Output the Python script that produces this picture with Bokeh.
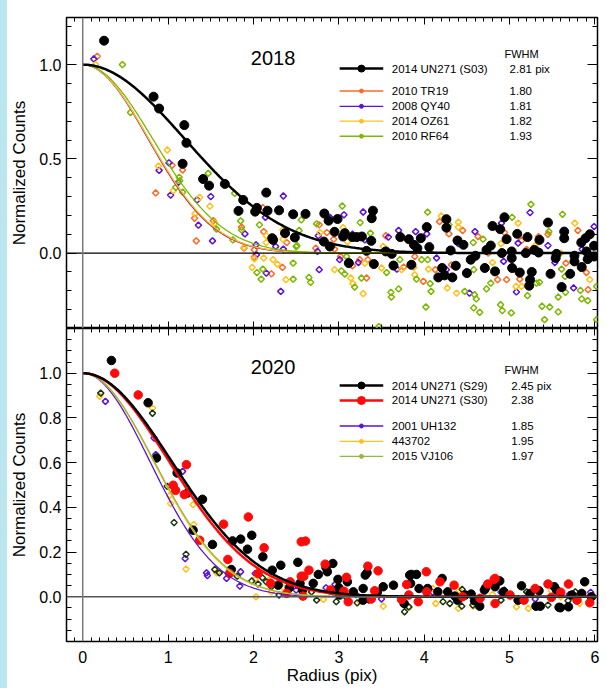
import numpy as np
from bokeh.plotting import figure
from bokeh.models import (Range1d, LinearAxis, FixedTicker, PrintfTickFormatter, Span, Div)
from bokeh.layouts import column, row
from bokeh.embed import file_html
from bokeh.resources import INLINE
from bokeh.core.properties import value

FONT = "Liberation Sans"

# ---------------- data: 2018 panel ----------------
top_names = ["2014 UN271 (S03)", "2010 TR19", "2008 QY40", "2014 OZ61", "2010 RF64"]
top_fwhm = [2.81, 1.80, 1.81, 1.82, 1.93]
top_fwhm_text = ["2.81 pix", "1.80", "1.81", "1.82", "1.93"]

s03 = [(0.25,1.127),(0.83,0.83),(0.895,0.767),(1.19,0.679),(1.215,0.585),(1.17,0.474),(1.41,0.393),(1.48,0.358),
       (1.665,0.367),(1.825,0.224),(1.88,0.282),(2.02,0.22),(2.04,0.24),(2.15,0.321),(2.165,0.225),(2.30,0.227),
       (2.465,0.206),(2.22,0.079),(2.23,0.07),(2.37,0.106),(2.485,0.083),(2.61,0.208),(2.83,0.21),(2.88,0.172),
       (2.985,0.181),(2.95,0.113),(3.07,0.106),(3.05,0.088),(3.16,0.085),(3.21,0.085),(3.27,0.088),(3.40,0.225),
       (3.385,0.185),(3.38,0.065),(3.72,0.085),(3.82,0.074),(2.825,0.061),(2.895,0.035),(3.325,0.012),(3.117,-0.053),
       (3.41,-0.058),(3.62,-0.004),(3.55,0.009),(3.64,-0.066),(3.96,0.079),(3.88,0.044),(3.92,0.026),(3.85,-0.062),
       (4.03,0.138),(4.06,0.032),(4.26,0.18),(4.26,0.135),(4.31,0.014),(4.21,-0.079),(4.24,-0.118),(4.165,-0.129),
       (4.33,-0.129),(4.37,-0.067),(4.39,0.067),(4.46,0.044),(4.50,-0.106),(4.545,-0.035),(4.60,-0.014),(4.73,0.017),
       (4.71,-0.079),(4.78,0.04),(4.80,0.144),(4.89,0.127),(4.94,0.19),(4.965,0.074),(4.91,0.0),(4.83,-0.097),
       (5.025,0.009),(5.025,-0.026),(5.03,-0.079),(5.09,0.102),(5.12,-0.103),(5.21,0.085),(5.19,0.0),(5.26,-0.1),
       (5.24,-0.141),(5.23,-0.173),(5.29,0.017),(5.34,0.003),(5.35,0.07),(5.45,0.162),(5.48,-0.11),(5.55,-0.004),
       (5.54,-0.026),(5.64,0.114),(5.64,0.079),(5.61,-0.18),(5.71,-0.11),(5.76,-0.044),(5.76,-0.014),(5.84,0.056),
       (5.845,-0.074),(5.89,0.079),(5.94,0.1),(5.90,0.009),(5.915,-0.032),(5.99,0.039),(5.99,-0.018)]

tr19 = [(0.17,1.044),(1.047,0.466),(1.17,0.441),(0.855,0.319),(1.31,0.185),(1.53,0.172),(1.33,0.065),(2.11,0.241),
        (2.12,0.114),(1.89,0.026),(2.01,0.017),(2.01,-0.021),(2.21,-0.11),(2.34,-0.076),(2.39,0.056),(1.86,0.138),
        (2.77,0.15),(2.86,0.109),(2.94,0.074),(2.73,0.026),(2.95,0.021),(3.55,0.092),(3.76,-0.074),(3.325,-0.132),
        (3.02,-0.018),(3.245,-0.035),(3.34,-0.035),(3.16,-0.067),(4.18,0.167),(4.29,0.102),(4.63,0.088),(4.94,0.109),
        (5.14,0.067),(5.34,0.088),(5.80,0.12),(3.89,-0.018),(3.99,-0.15),(4.13,-0.088),(4.32,-0.062),(4.86,-0.141),
        (4.965,-0.141),(5.06,-0.088),(5.12,-0.138),(5.92,-0.194),(5.90,-0.103),(5.66,-0.053),(4.45,0.12),(5.45,0.10),
        (5.2,0.02),(4.75,0.0)]

qy40 = [(0.13,1.03),(0.895,0.439),(1.01,0.479),(1.12,0.376),(1.03,0.308),(1.34,0.282),(1.50,0.30),(1.355,0.148),
        (1.52,0.065),(1.90,0.102),(2.14,0.19),(2.03,0.044),(2.035,-0.009),(2.15,-0.106),(2.32,-0.203),(2.35,0.303),
        (2.26,0.035),(2.35,0.021),(2.76,0.092),(2.895,0.19),(3.06,0.203),(3.285,0.218),(3.16,0.1),(3.305,0.07),
        (2.75,0.009),(3.58,0.085),(3.70,0.12),(3.68,-0.085),(3.01,-0.035),(3.23,-0.05),(2.77,-0.088),(3.90,0.114),
        (4.03,0.102),(4.595,0.114),(4.905,0.159),(5.24,0.215),(5.10,0.053),(5.99,0.141),(4.145,-0.026),(4.26,-0.088),
        (4.53,-0.212),(5.08,-0.206),(5.75,-0.185),(5.53,-0.05),(4.93,-0.044),(5.45,0.04),(5.85,0.02),(4.4,0.05)]

oz61 = [(0.15,1.0),(0.99,0.547),(0.887,0.462),(1.06,0.331),(1.37,0.296),(1.49,0.249),(1.316,0.208),(1.547,0.159),
        (2.15,0.092),(1.89,0.03),(2.12,-0.026),(1.985,-0.076),(2.01,-0.03),(2.23,-0.035),(2.28,-0.058),(2.38,-0.141),
        (2.345,0.074),(2.345,0.123),(2.15,0.056),(2.78,0.109),(3.05,0.135),(3.10,0.061),(3.52,0.035),(3.735,-0.088),
        (3.50,-0.079),(3.285,-0.215),(3.165,-0.162),(3.14,-0.132),(2.95,-0.088),(3.305,-0.053),(3.98,0.079),(4.20,0.197),
        (4.40,0.164),(4.40,0.138),(5.10,0.159),(5.765,0.159),(3.89,-0.115),(4.05,-0.085),(4.27,-0.185),(4.38,-0.212),
        (5.075,-0.177),(5.14,-0.177),(5.94,-0.141),(3.88,-0.076),(4.8,-0.05),(5.3,0.04),(5.6,0.0),(4.9,0.05)]

rf64 = [(0.465,1.0),(0.56,0.746),(1.13,0.402),(1.137,0.384),(1.09,0.349),(1.17,0.323),(1.47,0.423),(1.567,0.127),
        (1.78,0.317),(1.76,0.07),(1.85,0.171),(1.86,0.123),(2.07,0.15),(2.04,-0.103),(2.11,-0.085),(2.09,-0.138),
        (2.465,-0.138),(2.465,-0.053),(2.50,0.035),(2.56,0.176),(2.51,0.039),(2.535,0.12),(2.74,0.155),(3.04,0.25),
        (3.25,0.162),(3.37,0.106),(3.715,-0.035),(3.56,-0.103),(3.61,-0.208),(3.615,-0.233),(3.70,-0.19),(3.185,-0.18),
        (3.265,-0.132),(3.07,-0.111),(3.03,-0.094),(3.09,-0.018),(2.65,-0.129),(2.67,-0.155),(4.04,0.217),(4.29,0.15),
        (4.575,0.056),(4.69,0.074),(5.03,0.19),(5.25,0.259),(5.46,0.114),(5.62,0.206),(4.04,-0.035),(3.97,-0.035),
        (3.91,-0.138),(4.07,-0.162),(4.08,-0.203),(4.02,-0.286),(4.475,-0.203),(4.59,-0.221),(4.61,-0.243),(4.58,-0.291),
        (4.65,-0.314),(4.58,-0.088),(4.73,-0.19),(4.78,-0.159),(4.895,-0.274),(4.915,-0.305),(5.02,-0.317),(5.21,-0.226),
        (5.315,-0.159),(5.35,-0.155),(5.38,-0.282),(5.47,-0.286),(5.41,-0.353),(5.57,-0.312),(5.57,-0.233),(5.655,-0.208),
        (5.83,-0.198),(5.845,-0.243),(5.915,-0.252),(6.02,-0.177),(6.02,-0.353),(5.65,-0.124),(5.61,-0.085),(3.47,-0.39)]

# ---------------- data: 2020 panel ----------------
bot_names = ["2014 UN271 (S29)", "2014 UN271 (S30)", "2001 UH132", "443702", "2015 VJ106"]
bot_fwhm = [2.45, 2.38, 1.85, 1.95, 1.97]
bot_fwhm_text = ["2.45 pix", "2.38", "1.85", "1.95", "1.97"]

s29 = [(0.336,1.057),(0.766,0.868),(0.864,0.621),(1.106,0.554),(1.227,0.464),(1.403,0.436),(1.293,0.298),(1.52,0.234),
       (1.755,0.25),(1.85,0.258),(1.93,0.213),(1.98,0.275),(2.11,0.179),(2.22,0.119),(2.32,0.141),(2.29,0.052),
       (2.42,0.04),(2.52,0.154),(2.545,0.06),(1.74,0.122),(2.76,0.1),(2.85,0.131),(2.93,0.149),(2.865,0.112),
       (2.99,0.078),(3.10,0.067),(3.33,0.107),(3.52,0.045),(3.64,0.052),(3.83,0.097),(2.575,0.03),(3.01,0.008),
       (3.17,0.022),(3.285,0.037),(3.285,-0.015),(3.765,-0.03),(3.31,0.097),(3.85,0.1),(3.91,0.1),(4.21,0.082),
       (4.885,0.071),(5.88,0.067),(5.14,0.049),(5.58,-0.047),(4.65,-0.042),(3.84,0.06),(3.94,0.037),(4.04,0.037),
       (4.16,0.022),(4.275,0.022),(4.36,0.003),(4.39,-0.015),(4.48,0.008),(4.55,0.012),(4.59,-0.018),(4.705,0.03),
       (4.72,0.04),(4.85,0.067),(4.83,0.045),(4.93,0.022),(5.10,-0.015),(5.24,0.015),(5.345,0.027),(5.31,-0.042),
       (5.36,-0.042),(5.525,0.045),(5.55,0.03),(5.595,-0.049),(5.69,-0.045),(5.73,0.008),(5.845,0.015),(5.96,0.0),
       (3.45,0.02),(3.0,0.04),(2.7,0.06)]

s30 = [(0.375,1.0),(0.65,0.903),(1.215,0.591),(1.06,0.499),(1.087,0.476),(1.19,0.457),(1.37,0.253),(1.65,0.325),
       (1.70,0.167),(1.72,0.104),(1.94,0.357),(2.125,0.219),(2.055,0.104),(2.39,0.015),(2.56,0.092),(2.56,0.246),
       (2.61,0.249),(2.65,0.119),(2.59,0.092),(2.84,0.146),(3.09,0.087),(3.34,0.137),(3.795,0.055),(2.43,0.067),
       (2.58,0.003),(3.06,0.025),(3.11,-0.022),(3.38,-0.01),(3.42,0.027),(3.735,-0.012),(3.46,0.116),(4.025,0.112),
       (4.83,0.082),(5.45,0.057),(5.69,0.057),(3.82,0.008),(3.93,-0.022),(4.03,0.022),(4.185,0.067),(4.35,0.052),
       (4.655,-0.007),(4.745,0.057),(4.82,0.078),(4.83,-0.03),(5.005,0.008),(5.17,-0.015),(5.30,0.037),(5.49,-0.003),
       (5.79,-0.015),(5.94,-0.027),(2.2,0.06),(2.9,0.03),(4.45,0.0),(5.6,0.02)]

uh132 = [(0.266,0.874),(0.856,0.636),(0.836,0.71),(1.17,0.561),(1.2,0.171),(1.45,0.107),(1.46,0.095),(1.685,0.082),
         (1.84,0.048),(1.85,0.112),(2.02,0.104),(2.20,0.06),(2.50,0.03),(2.955,0.055),(2.85,0.04),(2.95,0.015),
         (3.75,-0.018),(3.2,0.01),(3.5,-0.01),(4.1,0.02),(4.4,0.0),(4.9,0.02),(5.3,-0.01),(5.7,0.01),(5.95,0.02)]

a443702 = [(0.2,0.897),(0.817,0.844),(1.03,0.417),(1.02,0.454),(1.293,0.412),(1.30,0.323),(1.21,0.124),(1.57,0.107),
           (2.03,0.0),(2.02,0.078),(2.18,0.075),(2.21,0.022),(2.35,0.04),(2.82,-0.012),(2.99,0.06),(3.25,-0.022),
           (3.52,-0.042),(4.10,0.037),(4.40,-0.052),(5.08,-0.045),(5.22,-0.052),(5.49,0.027),(5.82,-0.03),(4.135,-0.03),
           (4.575,-0.042),(4.41,0.03),(3.82,-0.047),(4.8,0.01),(5.6,0.0)]

vj106 = [(0.211,0.911),(0.817,0.821),(0.99,0.494),(1.07,0.332),(1.21,0.19),(1.547,0.122),(1.60,0.107),(1.81,0.092),
         (1.98,0.071),(2.105,0.085),(2.15,0.067),(2.055,0.057),(2.21,0.045),(2.30,0.008),(2.68,0.022),(2.74,-0.015),
         (2.97,-0.022),(3.215,-0.027),(3.35,-0.015),(3.77,-0.067),(3.09,-0.003),(3.82,-0.045),(4.22,-0.022),(4.30,-0.03),
         (4.445,0.033),(4.57,-0.037),(4.90,-0.015),(4.94,0.03),(5.45,-0.037),(5.685,-0.018),(5.94,0.0),(4.44,-0.042),
         (5.20,0.022),(5.77,0.022)]

# ---------------- styles ----------------
BLACK = "#000000"
ORANGE = "#ff6a26"
PURPLE = "#5b12d6"
YELLOW = "#ffc21a"
GREEN = "#7cb800"
RED = "#ff0a0a"
GREEN2 = "#94b840"
DARKG = "#1c3410"

X0, X1 = -0.19, 6.03
xr = Range1d(X0, X1)


def gauss(r, fwhm):
    return np.exp(-4.0 * np.log(2.0) * r ** 2 / fwhm ** 2)


rgrid = np.linspace(0, 6.03, 400)


def unzip(pairs):
    return [p[0] for p in pairs], [p[1] for p in pairs]


def lab_axis(ticker, fmt, tick_in, minor_in, standoff, label):
    ax = LinearAxis(ticker=ticker, formatter=fmt, axis_line_color=None,
                    major_tick_in=tick_in, major_tick_out=0,
                    minor_tick_in=minor_in, minor_tick_out=0,
                    major_tick_line_color="black", minor_tick_line_color="black",
                    major_label_standoff=standoff, axis_label=label)
    ax.major_label_text_font = FONT
    ax.major_label_text_font_size = "16px"
    ax.major_label_text_color = "black"
    ax.axis_label_text_font = FONT
    ax.axis_label_text_font_size = "17px"
    ax.axis_label_text_font_style = "normal"
    ax.axis_label_text_color = "black"
    return ax


def tick_only(p, side, major_pos, minor_pos, major_len, minor_len):
    # axes that carry only inward tick marks (no labels)
    for pos, ln in [(minor_pos, minor_len), (major_pos, major_len)]:
        ax = LinearAxis(ticker=FixedTicker(ticks=[], minor_ticks=pos), axis_line_color=None,
                        major_tick_in=0, major_tick_out=0, minor_tick_in=ln, minor_tick_out=0,
                        minor_tick_line_color="black", major_label_standoff=0)
        p.add_layout(ax, side)


x_major = [0, 1, 2, 3, 4, 5, 6]
x_minor = [round(-0.1 + 0.1 * i, 2) for i in range(62)]
x_ticker = FixedTicker(ticks=x_major, minor_ticks=x_minor)
fmt1 = PrintfTickFormatter(format="%.1f")
fmt0 = PrintfTickFormatter(format="%d")


def base_fig(yr, fh, top_b, bot_b):
    p = figure(x_range=xr, y_range=yr, frame_width=531, frame_height=fh,
               x_axis_type=None, y_axis_type=None, output_backend="svg",
               toolbar_location=None, min_border_left=57, min_border_right=8,
               min_border_top=top_b, min_border_bottom=bot_b)
    p.grid.visible = False
    p.outline_line_color = "black"
    p.outline_line_width = 1.5
    p.background_fill_color = "white"
    p.border_fill_color = "white"
    return p


def diamonds(p, pairs, col):
    xs, ys = unzip(pairs)
    p.scatter(xs, ys, marker="square", angle=np.pi / 4, size=4.4, fill_color=None,
              line_color=col, line_width=1.5)


# ================= TOP PANEL =================
top = base_fig(Range1d(-0.4, 1.25), 311, 17, 0)
ty_major = [0.0, 0.5, 1.0]
ty_minor = [round(-0.4 + 0.1 * i, 2) for i in range(17)]
la = lab_axis(FixedTicker(ticks=ty_major, minor_ticks=ty_minor), fmt1, 10, 5, 5, "Normalized Counts")
la.axis_label_standoff = 7
top.add_layout(la, "left")
tick_only(top, "right", ty_major, ty_minor, 10, 5)
tick_only(top, "above", x_major, x_minor, 7, 4)
tick_only(top, "below", x_major, x_minor, 7, 4)

top.add_layout(Span(location=0, dimension="width", line_color="black", line_width=1.2))
top.add_layout(Span(location=0, dimension="height", line_color="#7a7a7a", line_width=1.5))

for pairs, col in [(tr19, ORANGE), (qy40, PURPLE), (oz61, YELLOW), (rf64, GREEN)]:
    diamonds(top, pairs, col)
xs, ys = unzip(s03)
top.scatter(xs, ys, marker="circle", size=9, fill_color="black", line_color="black")

for f, col in zip(top_fwhm[1:], [ORANGE, PURPLE, YELLOW, GREEN]):
    top.line(rgrid, gauss(rgrid, f), line_color=col, line_width=1.3)
top.line(rgrid, gauss(rgrid, top_fwhm[0]), line_color="black", line_width=2.5)

# legend (top)
top_rows_y = [0.979, 0.86, 0.779, 0.70, 0.62]
top_cols = [BLACK, ORANGE, PURPLE, YELLOW, GREEN]
for i, (yv, col) in enumerate(zip(top_rows_y, top_cols)):
    lw = 2.5 if i == 0 else 1.3
    ms = 7 if i == 0 else 4
    top.line([3.01, 3.52], [yv, yv], line_color=col, line_width=lw)
    top.scatter([3.265], [yv], marker="circle", size=ms, fill_color=col, line_color=col)
top.text([3.62] * 5, top_rows_y, text=top_names, text_font=value(FONT), text_font_size="11.5px",
         text_baseline="middle", text_align="left", text_color="black")
top.text([5.0] * 5, top_rows_y, text=top_fwhm_text, text_font=value(FONT), text_font_size="11.5px",
         text_baseline="middle", text_align="left", text_color="black")
top.text([4.94], [1.058], text=["FWHM"], text_font=value(FONT), text_font_size="11px",
         text_baseline="middle", text_align="left", text_color="black")
top.text([2.23], [1.033], text=["2018"], text_font=value(FONT), text_font_size="20px",
         text_baseline="middle", text_align="center", text_color="black")

# ================= BOTTOM PANEL =================
bot = base_fig(Range1d(-0.2, 1.2), 313, 0, 47)
by_major = [0.0, 0.2, 0.4, 0.6, 0.8, 1.0]
by_minor = [round(-0.2 + 0.05 * i, 3) for i in range(29)]
lb = lab_axis(FixedTicker(ticks=by_major, minor_ticks=by_minor), fmt1, 10, 5, 5, "Normalized Counts")
lb.axis_label_standoff = 7
bot.add_layout(lb, "left")
tick_only(bot, "right", by_major, by_minor, 10, 5)
tick_only(bot, "above", x_major, x_minor, 7, 4)
bx = lab_axis(x_ticker, fmt0, 7, 4, 9, "Radius (pix)")
bx.axis_label_standoff = 0
bot.add_layout(bx, "below")

bot.add_layout(Span(location=0, dimension="width", line_color="#555555", line_width=1.5))
bot.add_layout(Span(location=0, dimension="height", line_color="#7a7a7a", line_width=1.5))

for pairs, col in [(uh132, PURPLE), (a443702, YELLOW), (vj106, DARKG)]:
    diamonds(bot, pairs, col)
xs, ys = unzip(s29)
bot.scatter(xs, ys, marker="circle", size=8.5, fill_color="black", line_color="black")
xs, ys = unzip(s30)
bot.scatter(xs, ys, marker="circle", size=8.5, fill_color=RED, line_color=RED)

for f, col in zip(bot_fwhm[2:], [PURPLE, YELLOW, GREEN2]):
    bot.line(rgrid, gauss(rgrid, f), line_color=col, line_width=1.3)
bot.line(rgrid, gauss(rgrid, bot_fwhm[1]), line_color=RED, line_width=2.5)
bot.line(rgrid, gauss(rgrid, bot_fwhm[0]), line_color="black", line_width=2.5)

bot_rows_y = [0.945, 0.878, 0.764, 0.695, 0.628]
bot_cols = [BLACK, RED, PURPLE, YELLOW, GREEN2]
for i, (yv, col) in enumerate(zip(bot_rows_y, bot_cols)):
    lw = 2.5 if i < 2 else 1.3
    ms = (7 if i == 0 else 8) if i < 2 else 4
    bot.line([3.01, 3.52], [yv, yv], line_color=col, line_width=lw)
    bot.scatter([3.265], [yv], marker="circle", size=ms, fill_color=col, line_color=col)
bot.text([3.62] * 5, bot_rows_y, text=bot_names, text_font=value(FONT), text_font_size="11.5px",
         text_baseline="middle", text_align="left", text_color="black")
bot.text([5.02] * 5, bot_rows_y, text=bot_fwhm_text, text_font=value(FONT), text_font_size="11.5px",
         text_baseline="middle", text_align="left", text_color="black")
bot.text([4.94], [1.015], text=["FWHM"], text_font=value(FONT), text_font_size="11px",
         text_baseline="middle", text_align="left", text_color="black")
bot.text([2.23], [1.03], text=["2020"], text_font=value(FONT), text_font_size="20px",
         text_baseline="middle", text_align="center", text_color="black")

strip = Div(text="", width=7, height=688, margin=0, styles={"background-color": "#bce6ef"})
layout = row(strip, column(top, bot, spacing=0), spacing=0)
html = file_html(layout, INLINE, title="PSF profiles")
open("out.html", "w").write(html)
